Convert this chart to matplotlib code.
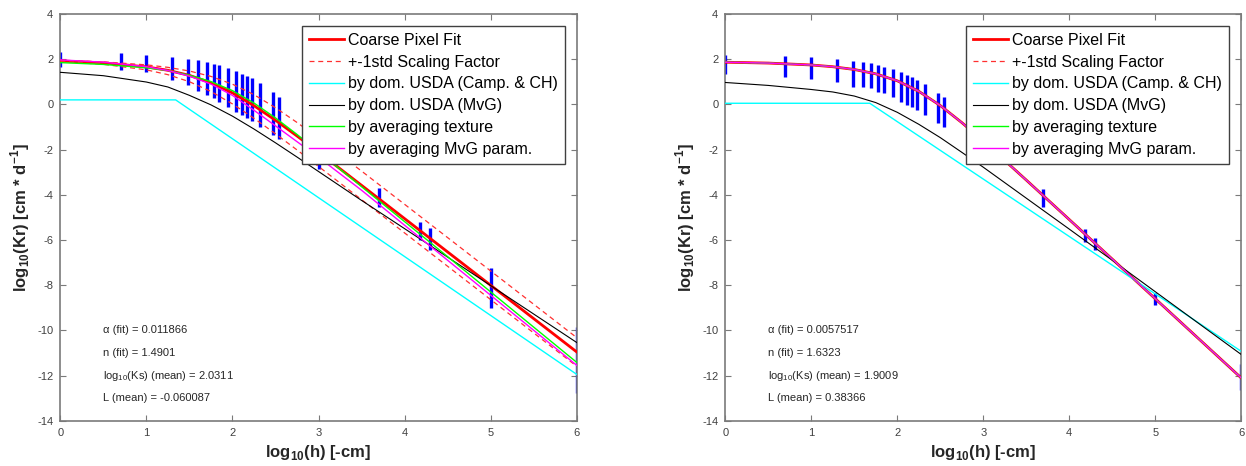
import matplotlib
matplotlib.use("Agg")
import matplotlib.pyplot as plt

plt.rcParams['font.family'] = ['Liberation Sans', 'DejaVu Sans']
plt.rcParams['mathtext.fontset'] = 'custom'
plt.rcParams['mathtext.rm'] = 'Liberation Sans'
plt.rcParams['mathtext.bf'] = 'Liberation Sans:bold'
plt.rcParams['axes.unicode_minus'] = False

# ---------------- data ----------------
XG = [0, 0.5, 1, 1.25, 1.5, 1.75, 2, 2.25, 2.5, 2.75, 3, 3.5, 4, 4.5, 5, 5.5, 6]

# left panel
L_fit = [1.926, 1.838, 1.661, 1.509, 1.285, 0.958, 0.509, -0.057, -0.703, -1.399,
         -2.115, -3.583, -5.056, -6.532, -8.007, -9.483, -10.958]
L_up = [1.954, 1.882, 1.750, 1.640, 1.478, 1.239, 0.895, 0.430, -0.147, -0.800,
        -1.499, -2.952, -4.423, -5.897, -7.373, -8.848, -10.324]
L_lo = [1.894, 1.775, 1.530, 1.316, 1.004, 0.572, 0.022, -0.613, -1.302, -2.015,
        -2.746, -4.216, -5.690, -7.166, -8.641, -10.117, -11.592]
L_cyan_x = [0, 1.34, 6]
L_cyan_y = [0.2, 0.2, -11.95]
L_black = [1.42, 1.27, 0.99, 0.77, 0.40, -0.02, -0.52, -1.09, -1.70, -2.33,
           -2.97, -4.25, -5.50, -6.76, -8.02, -9.28, -10.54]
L_green = [1.85, 1.77, 1.62, 1.50, 1.29, 1.01, 0.61, 0.06, -0.60, -1.33,
           -2.10, -3.64, -5.19, -6.74, -8.30, -9.86, -11.42]
L_pink = [1.97, 1.87, 1.67, 1.50, 1.25, 0.90, 0.40, -0.26, -0.95, -1.65,
          -2.34, -3.80, -5.35, -6.90, -8.45, -10.00, -11.55]

BAR_X = [0, 0.70, 1.0, 1.30, 1.48, 1.60, 1.70, 1.78, 1.84, 1.95, 2.04, 2.11, 2.17,
         2.23, 2.32, 2.47, 2.54, 3.0, 3.70, 4.18, 4.30, 5.0, 6.0]
L_bar_hi = [2.31, 2.27, 2.20, 2.12, 2.03, 1.97, 1.89, 1.81, 1.74, 1.60, 1.49, 1.34, 1.25,
            1.15, 0.93, 0.53, 0.34, -1.9, -3.71, -5.19, -5.49, -7.25, -9.86]
L_bar_lo = [1.67, 1.53, 1.42, 1.08, 0.86, 0.61, 0.41, 0.30, 0.12, -0.10, -0.32, -0.47, -0.62,
            -0.72, -0.99, -1.36, -1.55, -2.85, -4.53, -6.00, -6.45, -9.02, -12.77]

L_texts = ["\u03b1 (fit) = 0.011866", "n (fit) = 1.4901",
           "log$_{10}$(Ks) (mean) = 2.0311", "L (mean) = -0.060087"]

# right panel
R_fit = [1.867, 1.829, 1.745, 1.667, 1.546, 1.352, 1.044, 0.579, -0.051, -0.804,
         -1.621, -3.349, -5.097, -6.848, -8.602, -10.356, -12.109]
R_up = [1.867, 1.829, 1.745, 1.667, 1.546, 1.352, 1.044, 0.579, -0.051, -0.804,
        -1.621, -3.349, -5.097, -6.848, -8.602, -10.356, -12.109]
R_lo = [1.867, 1.829, 1.745, 1.667, 1.546, 1.352, 1.044, 0.579, -0.051, -0.804,
        -1.621, -3.349, -5.097, -6.848, -8.602, -10.356, -12.109]
R_cyan_x = [0, 1.68, 6]
R_cyan_y = [0.05, 0.05, -10.93]
R_black = [0.97, 0.84, 0.66, 0.55, 0.37, 0.08, -0.35, -0.88, -1.47, -2.12,
           -2.78, -4.15, -5.52, -6.90, -8.29, -9.68, -11.07]
R_green = [1.867, 1.829, 1.745, 1.667, 1.546, 1.352, 1.044, 0.579, -0.051, -0.804,
           -1.621, -3.349, -5.097, -6.848, -8.602, -10.356, -12.109]
R_pink = [1.867, 1.829, 1.745, 1.667, 1.546, 1.352, 1.044, 0.579, -0.051, -0.804,
          -1.621, -3.349, -5.097, -6.848, -8.602, -10.356, -12.109]

R_bar_hi = [2.19, 2.15, 2.09, 2.00, 1.94, 1.89, 1.82, 1.74, 1.67, 1.55, 1.45, 1.30, 1.20,
            1.08, 0.90, 0.49, 0.31, -1.1, -3.76, -5.53, -5.93, -8.35, -11.51]
R_bar_lo = [1.35, 1.20, 1.11, 0.98, 0.76, 0.76, 0.71, 0.56, 0.49, 0.31, 0.12, -0.03, -0.13,
            -0.25, -0.47, -0.84, -1.02, -2.2, -4.56, -6.07, -6.44, -8.87, -12.62]

R_texts = ["\u03b1 (fit) = 0.0057517", "n (fit) = 1.6323",
           "log$_{10}$(Ks) (mean) = 1.9009", "L (mean) = 0.38366"]

TEXT_Y = [-10, -11, -12, -13]
LABELS = ['Coarse Pixel Fit', '+-1std Scaling Factor', 'by dom. USDA (Camp. & CH)',
          'by dom. USDA (MvG)', 'by averaging texture', 'by averaging MvG param.']

# ---------------- figure ----------------
fig = plt.figure(figsize=(12.46, 4.66), dpi=100)
ax1 = fig.add_axes([0.0484, 0.0972, 0.4145, 0.8727])
ax2 = fig.add_axes([0.5821, 0.0972, 0.4141, 0.8727])

SPINE = '#7a7a7a'
TICKC = '#404040'


def draw(ax, fit, up, lo, cx, cy, black, green, pink, bhi, blo, texts):
    ax.vlines(BAR_X, blo, bhi, color='#0000ff', linewidth=2.4, zorder=2)
    h1, = ax.plot(XG, fit, color='#ff0000', lw=2.0, zorder=3)
    h2, = ax.plot(XG, up, color='#ff3030', lw=0.9, ls=(0, (4, 3)), zorder=3)
    ax.plot(XG, lo, color='#ff3030', lw=0.9, ls=(0, (4, 3)), zorder=3)
    h3, = ax.plot(cx, cy, color='#00ffff', lw=1.0, zorder=3)
    h4, = ax.plot(XG, black, color='#000000', lw=0.8, zorder=3)
    h5, = ax.plot(XG, green, color='#00ff00', lw=1.0, zorder=3)
    h6, = ax.plot(XG, pink, color='#ff00ff', lw=1.0, zorder=3)
    ax.set_xlim(0, 6)
    ax.set_ylim(-14, 4)
    ax.set_xticks(range(0, 7))
    ax.set_yticks(range(-14, 5, 2))
    ax.tick_params(direction='in', length=4, width=0.8, top=True, right=True,
                   labelsize=8, colors=SPINE, labelcolor=TICKC, pad=5)
    for s in ax.spines.values():
        s.set_color(SPINE)
        s.set_linewidth(1.2)
    ax.set_xlabel('log$_{\\mathbf{10}}$(h) [-cm]', fontsize=12, fontweight='bold',
                  color='#262626', labelpad=4)
    ax.set_ylabel('log$_{\\mathbf{10}}$(Kr) [cm * d$^{\\mathbf{-1}}$]', fontsize=12,
                  fontweight='bold', color='#262626', labelpad=4)
    for t, yy in zip(texts, TEXT_Y):
        ax.text(0.5, yy, t, fontsize=8, va='center', ha='left', color='#262626')
    leg = ax.legend([h1, h2, h3, h4, h5, h6], LABELS, loc='upper right',
                    bbox_to_anchor=(0.977, 0.971), borderaxespad=0, fontsize=11.5,
                    fancybox=False, framealpha=1, edgecolor='#404040',
                    handlelength=2.2, handletextpad=0.25, labelspacing=0.42,
                    borderpad=0.45)
    leg.get_frame().set_linewidth(1.0)
    leg.set_zorder(5)


draw(ax1, L_fit, L_up, L_lo, L_cyan_x, L_cyan_y, L_black, L_green, L_pink,
     L_bar_hi, L_bar_lo, L_texts)
draw(ax2, R_fit, R_up, R_lo, R_cyan_x, R_cyan_y, R_black, R_green, R_pink,
     R_bar_hi, R_bar_lo, R_texts)

fig.savefig('out.png', dpi=100)
